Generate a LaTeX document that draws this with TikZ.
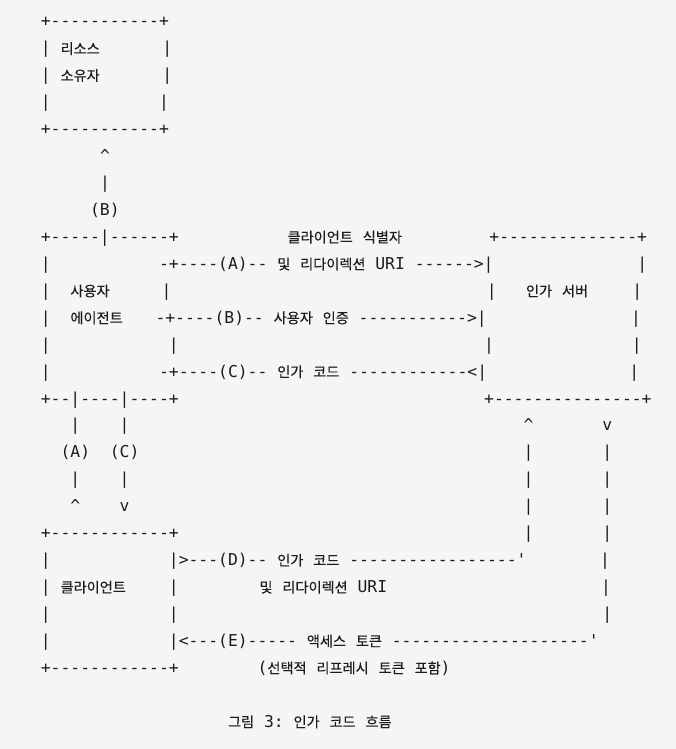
\documentclass[tikz,border=0pt]{standalone}
\usepackage{fontspec}
\setmonofont{DejaVu Sans Mono}
\newfontfamily\krfont{Noto Sans CJK KR}[FakeBold=0.2]
\newcommand\K[1]{{\krfont\fontsize{14.2}{16}\selectfont #1}}
\definecolor{bgcol}{HTML}{F5F5F5}
\definecolor{inkcol}{HTML}{1C1C1C}
\tikzset{txt/.style={anchor=base west, inner sep=0pt, outer sep=0pt, text=inkcol,
  font=\ttfamily\fontsize{16.36}{18}\selectfont\frenchspacing}}
\newcommand\AtCol[4]{\node[txt] (#1) at ({40.9+9.85*(#2)},{-(27+(#3-1)*26.93)}) {#4};}
\newcommand\AtPx[4]{\node[txt] (#1) at ({#2},{-(27+(#3-1)*26.93)}) {#4};}
\begin{document}
\begin{tikzpicture}[x=1pt,y=1pt]
\path[fill=bgcol] (0,0) rectangle (676,-749);
\useasboundingbox (0,0) rectangle (676,-749);
% resource owner
\AtCol{a1}{0}{1}{+-----------+}
\AtCol{b1}{0}{2}{|}
\AtPx{b2}{60.6}{2}{\K{리소스}}
\AtPx{b3}{162.4}{2}{|}
\AtCol{c1}{0}{3}{|}
\AtPx{c2}{60.6}{3}{\K{소유자}}
\AtPx{c3}{162.4}{3}{|}
\AtCol{d1}{0}{4}{|}
\AtCol{d2}{12}{4}{|}
\AtCol{e1}{0}{5}{+-----------+}
\AtCol{f1}{6}{6}{\textasciicircum}
\AtCol{g1}{6}{7}{|}
\AtCol{h1}{5}{8}{(B)}
% user agent + authorization server
\AtCol{i1}{0}{9}{+-----|------+}
\AtPx{i2}{287.6}{9}{\K{클라이언트} \K{식별자}}
\AtPx{i3}{489.4}{9}{+--------------+}
\AtCol{j1}{0}{10}{|}
\AtCol{j2}{12}{10}{-+----(A)-- \K{및} \K{리다이렉션} URI ------>|}
\AtPx{j3}{637.4}{10}{|}
\AtCol{k1}{0}{11}{|}
\AtCol{k2}{3}{11}{\K{사용자}}
\AtPx{k3}{161.7}{11}{|}
\AtPx{k4}{486.8}{11}{|}
\AtPx{k5}{526}{11}{\K{인가} \K{서버}}
\AtPx{k6}{632.4}{11}{|}
\AtCol{l1}{0}{12}{|}
\AtCol{l2}{3}{12}{\K{에이전트}}
\AtPx{l3}{155.5}{12}{-+----(B)-- \K{사용자} \K{인증} ----------->|}
\AtPx{l4}{631}{12}{|}
\AtCol{m1}{0}{13}{|}
\AtCol{m2}{13}{13}{|}
\AtCol{m3}{45}{13}{|}
\AtCol{m4}{60}{13}{|}
\AtCol{n1}{0}{14}{|}
\AtCol{n2}{12}{14}{-+----(C)-- \K{인가} \K{코드} ------------<|}
\AtPx{n3}{629.4}{14}{|}
\AtCol{o1}{0}{15}{+--|----|----+}
\AtCol{o2}{45}{15}{+---------------+}
% vertical links
\AtCol{p1}{3}{16}{|}
\AtCol{p2}{8}{16}{|}
\AtCol{p3}{49}{16}{\textasciicircum}
\AtCol{p4}{57}{16}{v}
\AtCol{q1}{2}{17}{(A)}
\AtCol{q2}{7}{17}{(C)}
\AtCol{q3}{49}{17}{|}
\AtCol{q4}{57}{17}{|}
\AtCol{r1}{3}{18}{|}
\AtCol{r2}{8}{18}{|}
\AtCol{r3}{49}{18}{|}
\AtCol{r4}{57}{18}{|}
\AtCol{s1}{3}{19}{\textasciicircum}
\AtCol{s2}{8}{19}{v}
\AtCol{s3}{49}{19}{|}
\AtCol{s4}{57}{19}{|}
% client
\AtCol{t1}{0}{20}{+------------+}
\AtCol{t3}{49}{20}{|}
\AtCol{t4}{57}{20}{|}
\AtCol{u1}{0}{21}{|}
\AtCol{u2}{13}{21}{|>---(D)-- \K{인가} \K{코드} -----------------'}
\AtPx{u3}{600}{21}{|}
\AtCol{v1}{0}{22}{|}
\AtCol{v2}{2}{22}{\K{클라이언트}}
\AtCol{v3}{13}{22}{|}
\AtPx{v4}{259.5}{22}{\K{및} \K{리다이렉션} URI}
\AtPx{v5}{601}{22}{|}
\AtCol{w1}{0}{23}{|}
\AtCol{w2}{13}{23}{|}
\AtCol{w3}{57}{23}{|}
\AtCol{x1}{0}{24}{|}
\AtCol{x2}{13}{24}{|<---(E)----- \K{액세스} \K{토큰} --------------------'}
\AtCol{y1}{0}{25}{+------------+}
\AtCol{y2}{22}{25}{(\K{선택적} \K{리프레시} \K{토큰} \K{포함})}
% caption
\AtCol{z1}{19}{27}{\K{그림} 3: \K{인가} \K{코드} \K{흐름}}
\end{tikzpicture}
\end{document}
